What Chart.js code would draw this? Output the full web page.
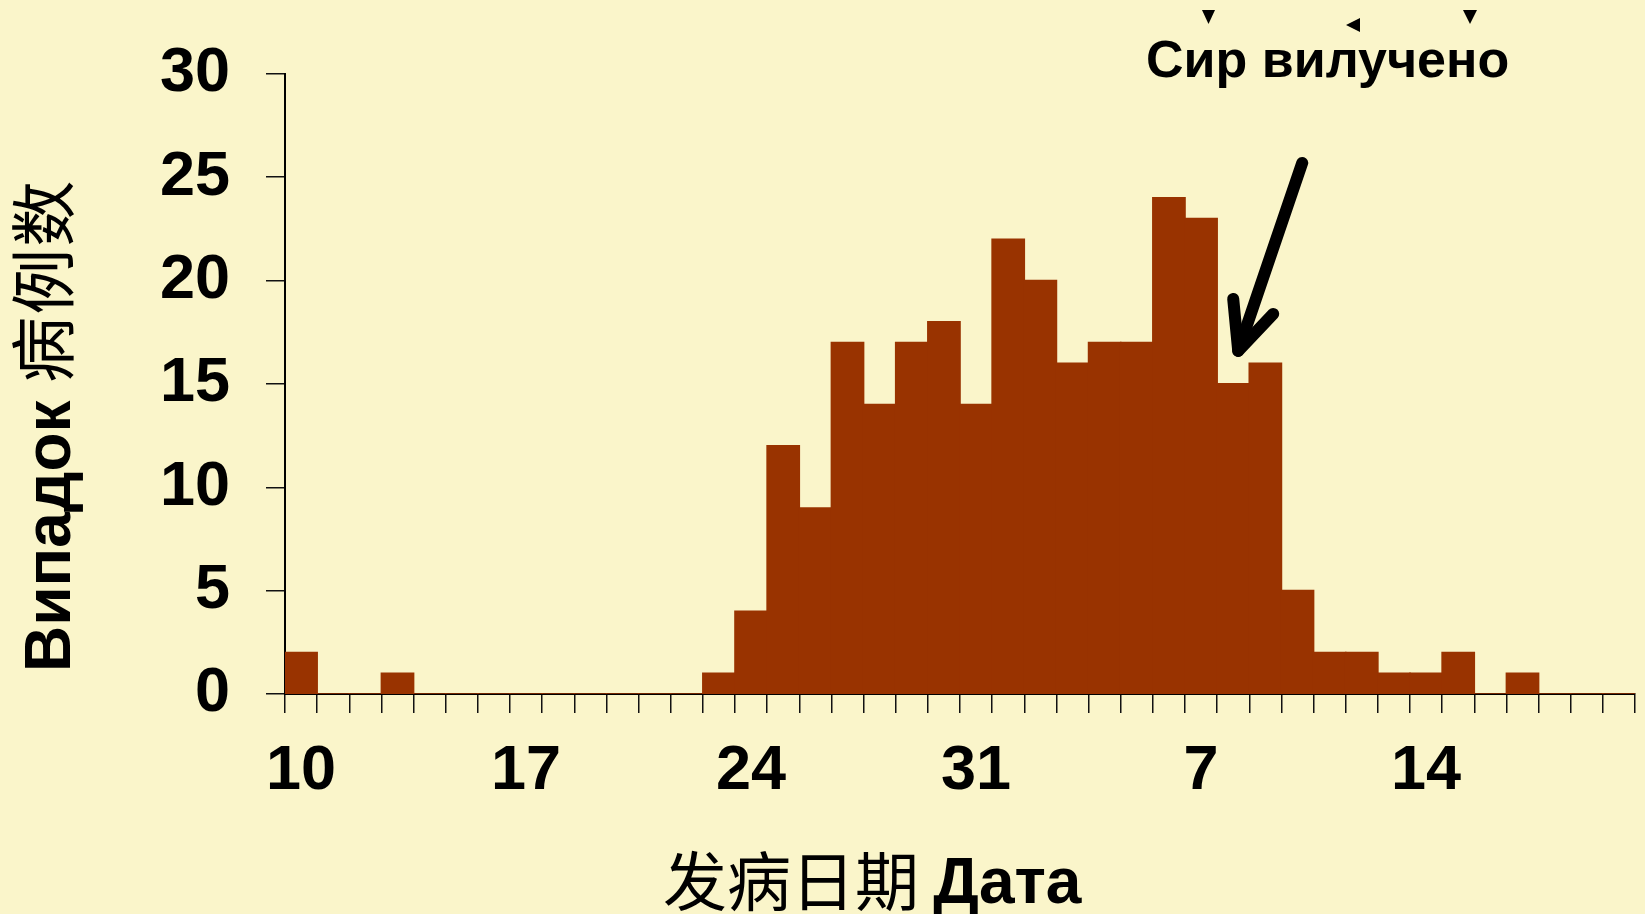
<!DOCTYPE html>
<html>
<head>
<meta charset="utf-8">
<script src="https://cdn.jsdelivr.net/npm/chart.js@4/dist/chart.umd.min.js"></script>
<style>
  html, body { margin: 0; padding: 0; background: #FAF5CA; }
  #wrap { width: 1645px; height: 914px; }
</style>
</head>
<body>
<div id="wrap"><canvas id="c" width="1645" height="914"></canvas></div>
<script>
// Onset day for each bin (10th..31st of one month, then 1st..20th of the next)
const days = ['10','11','12','13','14','15','16','17','18','19','20','21','22','23','24','25','26','27','28','29','30','31',
              '1','2','3','4','5','6','7','8','9','10','11','12','13','14','15','16','17','18','19','20'];
// Cases per onset day
const cases = [2,0,0,1,0,0,0,0,0,0,0,0,0,1,4,12,9,17,14,17,18,14,22,20,16,17,17,24,23,15,16,5,2,2,1,1,2,0,1,0,0,0];
// y axis range and step
const yTicks = [0, 5, 10, 15, 20, 25, 30];
// Only every 7th day gets a printed label
const labelEvery = 7;

const yTitleBold = 'Випадок ';
const yTitleCjk = '病例数';
const xTitleCjk = '发病日期 ';
const xTitleBold = 'Дата';
const noteText = 'Сир вилучено';
const noteDayIndex = 29;   // day the arrow points at (cheese withdrawn)

const LATIN = '"Liberation Sans", Arial, sans-serif';
const CJK = '"Noto Sans CJK SC", sans-serif';
const BG = '#FAF5CA';

const decorations = {
  id: 'decorations',
  beforeDraw(chart) {
    const ctx = chart.ctx;
    ctx.save();
    ctx.fillStyle = BG;
    ctx.fillRect(0, 0, chart.width, chart.height);
    ctx.restore();
  },
  afterDraw(chart) {
    const ctx = chart.ctx;
    const xs = chart.scales.x, ys = chart.scales.y;
    ctx.save();
    ctx.fillStyle = '#000';
    ctx.textBaseline = 'alphabetic';
    ctx.textAlign = 'left';

    // y axis title, rotated, mixed scripts
    ctx.save();
    ctx.translate(70, 672);
    ctx.rotate(-Math.PI / 2);
    ctx.font = 'bold 64px ' + LATIN;
    ctx.fillText(yTitleBold, 0, 0);
    let w = ctx.measureText(yTitleBold).width;
    ctx.font = '400 66px ' + CJK;
    ctx.letterSpacing = '2px';
    ctx.fillText(yTitleCjk, w, -2);
    ctx.letterSpacing = '0px';
    ctx.restore();

    // x axis title
    ctx.font = '400 64px ' + CJK;
    ctx.fillText(xTitleCjk, 663, 905);
    w = ctx.measureText(xTitleCjk).width;
    ctx.font = 'bold 64px ' + LATIN;
    ctx.fillText(xTitleBold, 663 + w, 903);

    // annotation text
    ctx.font = 'bold 52px ' + LATIN;
    ctx.fillText(noteText, 1146, 77);

    // small marker triangles above the annotation
    const tri = (pts) => {
      ctx.beginPath();
      ctx.moveTo(pts[0], pts[1]);
      ctx.lineTo(pts[2], pts[3]);
      ctx.lineTo(pts[4], pts[5]);
      ctx.closePath();
      ctx.fill();
    };
    tri([1202, 10, 1215, 10, 1208.5, 24]);
    tri([1463, 10, 1477, 10, 1470, 24]);
    tri([1360, 18, 1360, 32, 1346, 25]);

    // arrow pointing at the withdrawal day
    const tipX = xs.getPixelForValue(noteDayIndex) + 5;
    const tipY = ys.getPixelForValue(cases[noteDayIndex]) - 33;
    ctx.strokeStyle = '#000';
    ctx.lineWidth = 12;
    ctx.lineCap = 'round';
    ctx.lineJoin = 'round';
    ctx.beginPath();
    ctx.moveTo(tipX + 64, tipY - 188);
    ctx.lineTo(tipX, tipY);
    ctx.stroke();
    ctx.beginPath();
    ctx.moveTo(tipX - 5, tipY - 52);
    ctx.lineTo(tipX, tipY);
    ctx.lineTo(tipX + 35, tipY - 37);
    ctx.stroke();
    ctx.restore();
  }
};

new Chart(document.getElementById('c'), {
  type: 'bar',
  data: {
    labels: days,
    datasets: [{
      data: cases,
      backgroundColor: '#993300',
      borderWidth: 0,
      inflateAmount: 0.8,
      barPercentage: 1,
      categoryPercentage: 1
    }]
  },
  options: {
    responsive: false,
    devicePixelRatio: 1,
    animation: false,
    layout: { padding: { top: 73, right: 10, left: 0, bottom: 0 } },
    plugins: { legend: { display: false }, tooltip: { enabled: false } },
    scales: {
      x: {
        grid: { offset: true, drawOnChartArea: false, color: '#111', lineWidth: 1.5, tickLength: 19 },
        border: { color: '#000', width: 2 },
        ticks: {
          autoSkip: false, maxRotation: 0, minRotation: 0, color: '#000', padding: 21,
          font: { family: LATIN, size: 63, weight: 'bold' },
          callback: (v, i) => (i % labelEvery === 0 ? days[i] : '')
        },
        afterFit: (s) => { s.height = 220; }
      },
      y: {
        min: yTicks[0], max: yTicks[yTicks.length - 1],
        grid: { drawOnChartArea: false, color: '#111', lineWidth: 1.5, tickLength: 19 },
        border: { color: '#000', width: 2 },
        ticks: {
          stepSize: yTicks[1] - yTicks[0], color: '#000', padding: 36,
          font: { family: LATIN, size: 63, weight: 'bold' }
        },
        afterFit: (s) => { s.width = 285; }
      }
    }
  },
  plugins: [decorations]
});
</script>
</body>
</html>
